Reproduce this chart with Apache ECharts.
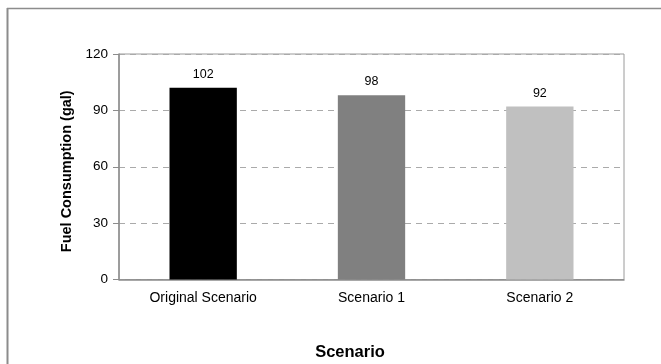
<!DOCTYPE html>
<html>
<head>
<meta charset="utf-8">
<script src="https://cdn.jsdelivr.net/npm/echarts@6/dist/echarts.min.js"></script>
<style>
  html, body { margin: 0; padding: 0; background: #fff; }
  #chart { width: 661px; height: 364px; }
</style>
</head>
<body>
<div id="chart"></div>
<script>
// Fuel use per routing scenario
const scenarios = ['Original Scenario', 'Scenario 1', 'Scenario 2'];
const fuelGallons = [102, 98, 92];
const barColors = ['#000000', '#808080', '#c0c0c0'];
const yTicks = { min: 0, max: 120, step: 30 };

const FONT = '"Liberation Sans", Arial, sans-serif';
const chart = echarts.init(document.getElementById('chart'), null, { renderer: 'canvas' });

chart.setOption({
  backgroundColor: '#ffffff',
  animation: false,
  grid: {
    left: 119, top: 54, right: 37, bottom: 84.5,
    show: true, borderColor: '#9a9a9a', borderWidth: 1, backgroundColor: 'transparent'
  },
  xAxis: {
    type: 'category',
    data: scenarios,
    axisLine: { lineStyle: { color: '#8c8c8c', width: 1.5 } },
    axisTick: { show: false },
    axisLabel: { color: '#000', fontFamily: FONT, fontSize: 14, margin: 12 }
  },
  yAxis: {
    type: 'value',
    min: yTicks.min, max: yTicks.max, interval: yTicks.step,
    name: 'Fuel Consumption (gal)',
    nameLocation: 'middle',
    nameGap: 41,
    nameTextStyle: { color: '#000', fontFamily: FONT, fontSize: 14.5, fontWeight: 'bold',
                     padding: [0, 9, 0, 0] },
    axisLine: { show: true, lineStyle: { color: '#8c8c8c', width: 1.5 } },
    axisTick: { show: true, inside: false, length: 6, lineStyle: { color: '#8c8c8c' } },
    axisLabel: { color: '#000', fontFamily: FONT, fontSize: 13.5, margin: 11 },
    splitLine: { show: true, lineStyle: { color: '#aaaaaa', type: [6, 5], width: 1 } }
  },
  series: [{
    type: 'bar',
    data: fuelGallons.map((v, i) => ({ value: v, itemStyle: { color: barColors[i] } })),
    barWidth: '40%',
    label: {
      show: true, position: 'top', distance: 7,
      color: '#000', fontFamily: FONT, fontSize: 12.5
    }
  }],
  graphic: [
    { type: 'line', silent: true, shape: { x1: 7, y1: 8.5, x2: 661, y2: 8.5 },
      style: { stroke: '#8c8c8c', lineWidth: 1.5 } },
    { type: 'line', silent: true, shape: { x1: 7.5, y1: 8, x2: 7.5, y2: 364 },
      style: { stroke: '#8c8c8c', lineWidth: 2 } },
    { type: 'text', silent: true, x: 350, y: 352,
      style: { text: 'Scenario', font: 'bold 16.5px ' + FONT, fill: '#000',
               textAlign: 'center', textVerticalAlign: 'middle' } }
  ]
});
</script>
</body>
</html>
